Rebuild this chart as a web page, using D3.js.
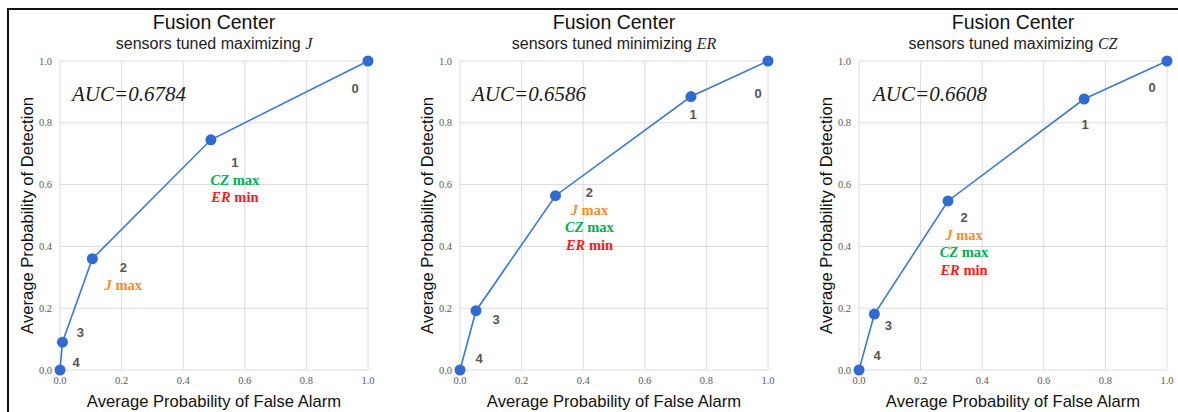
<!DOCTYPE html>
<html>
<head>
<meta charset="utf-8">
<script src="https://cdn.jsdelivr.net/npm/d3@7"></script>
<style>
  body { margin: 0; background: #fff; }
  svg { display: block; }
</style>
</head>
<body>
<div id="vis"></div>
<script>
// values
var metrics = ["J", "ER", "CZ"];
var verbs = ["maximizing", "minimizing", "maximizing"];
var aucValues = ["0.6784", "0.6586", "0.6608"];
var pointNames = ["0", "1", "2", "3", "4"];

var pfaJ = [1.0, 0.49, 0.105, 0.008, 0.0];
var pdJ = [1.0, 0.745, 0.36, 0.09, 0.0];
var pfaER = [1.0, 0.75, 0.31, 0.052, 0.0];
var pdER = [1.0, 0.885, 0.564, 0.192, 0.0];
var pfaCZ = [1.0, 0.731, 0.289, 0.05, 0.0];
var pdCZ = [1.0, 0.877, 0.547, 0.181, 0.0];

// index of the operating point that is optimal for each criterion, per panel
var jMaxAt = [2, 2, 2];
var czMaxAt = [1, 2, 2];
var erMinAt = [1, 2, 2];

var ticks = [0, 0.2, 0.4, 0.6, 0.8, 1.0];

var pfa = [pfaJ, pfaER, pfaCZ];
var pd = [pdJ, pdER, pdCZ];

// layout
var width = 1178, height = 412;
var plotLeft = [60, 460, 859];
var plotW = 308;
var plotTop = 61, plotBottom = 370;
var aucX = [72, 472, 873];

// label offsets (px) from each point, per panel
var labelOffsets = [
    [[-13, 27], [24, 23], [31, 9], [18, -10], [16, -8]],
    [[-10, 32], [2, 18], [34, -3], [20, 9], [19, -12]],
    [[-15, 26], [1, 25], [16, 17], [14, 11], [18, -15]]
];

var blue = "#3b78d8", dotBlue = "#2f6bd1";
var critColors = { J: "#f98b2c", CZ: "#00b050", ER: "#ff1a1a" };

var svg = d3.select("#vis").append("svg")
    .attr("width", width)
    .attr("height", height);

// frame
svg.append("line").attr("x1", 8).attr("y1", 9).attr("x2", width).attr("y2", 9)
    .attr("stroke", "#111").attr("stroke-width", 2);
svg.append("line").attr("x1", 8).attr("y1", 8).attr("x2", 8).attr("y2", height)
    .attr("stroke", "#111").attr("stroke-width", 2);

metrics.forEach(function(m, p) {
    var x = d3.scaleLinear().domain([0, 1]).range([plotLeft[p], plotLeft[p] + plotW]);
    var y = d3.scaleLinear().domain([0, 1]).range([plotBottom, plotTop]);
    var g = svg.append("g");
    var cx = plotLeft[p] + plotW / 2;

    // grid
    g.selectAll(".vg").data(ticks).enter().append("line")
        .attr("x1", d => x(d)).attr("x2", d => x(d))
        .attr("y1", plotTop).attr("y2", plotBottom)
        .attr("stroke", "#dcdcdc").attr("stroke-width", 1);
    g.selectAll(".hg").data(ticks).enter().append("line")
        .attr("x1", plotLeft[p]).attr("x2", plotLeft[p] + plotW)
        .attr("y1", d => y(d)).attr("y2", d => y(d))
        .attr("stroke", "#dcdcdc").attr("stroke-width", 1);

    // tick labels
    g.selectAll(".xt").data(ticks).enter().append("text")
        .attr("x", d => x(d)).attr("y", 384)
        .attr("text-anchor", "middle")
        .attr("font-family", "Liberation Serif").attr("font-size", 10.5)
        .attr("fill", "#5a5a5a")
        .text(d => d.toFixed(1));
    g.selectAll(".yt").data(ticks).enter().append("text")
        .attr("x", plotLeft[p] - 8).attr("y", d => y(d) + 3.5)
        .attr("text-anchor", "end")
        .attr("font-family", "Liberation Serif").attr("font-size", 10.5)
        .attr("fill", "#5a5a5a")
        .text(d => d.toFixed(1));

    // titles
    g.append("text").attr("x", cx).attr("y", 29)
        .attr("text-anchor", "middle")
        .attr("font-family", "Liberation Sans").attr("font-size", 19.5)
        .attr("fill", "#111")
        .text("Fusion Center");
    var st = g.append("text").attr("x", cx).attr("y", 49)
        .attr("text-anchor", "middle")
        .attr("font-family", "Liberation Sans").attr("font-size", 16)
        .attr("fill", "#222");
    st.append("tspan").text("sensors tuned " + verbs[p] + " ");
    st.append("tspan").attr("font-family", "Liberation Serif").attr("font-style", "italic")
        .text(m);

    g.append("text").attr("x", cx).attr("y", 407)
        .attr("text-anchor", "middle")
        .attr("font-family", "Liberation Sans").attr("font-size", 16.6)
        .attr("fill", "#111")
        .text("Average Probability of False Alarm");
    g.append("text")
        .attr("transform", "translate(" + (plotLeft[p] - 27) + "," + ((plotTop + plotBottom) / 2) + ") rotate(-90)")
        .attr("text-anchor", "middle")
        .attr("font-family", "Liberation Sans").attr("font-size", 16.6)
        .attr("fill", "#111")
        .text("Average Probability of Detection");

    // AUC
    g.append("text").attr("x", aucX[p]).attr("y", 101)
        .attr("font-family", "Liberation Serif").attr("font-style", "italic")
        .attr("font-size", 21).attr("fill", "#1a1a1a")
        .text("AUC=" + aucValues[p]);

    // curve
    var pts = pfa[p].map((v, i) => [v, pd[p][i]]);
    g.append("path").datum(pts)
        .attr("d", d3.line().x(d => x(d[0])).y(d => y(d[1])))
        .attr("fill", "none").attr("stroke", blue).attr("stroke-width", 1.6);
    g.selectAll(".pt").data(pts).enter().append("circle")
        .attr("cx", d => x(d[0])).attr("cy", d => y(d[1]))
        .attr("r", 5.5).attr("fill", dotBlue);

    // point labels and optimum notes
    pts.forEach(function(d, i) {
        var lx = x(d[0]) + labelOffsets[p][i][0];
        var ly = y(d[1]) + labelOffsets[p][i][1];
        g.append("text").attr("x", lx).attr("y", ly + 4.5)
            .attr("text-anchor", "middle")
            .attr("font-family", "Liberation Sans").attr("font-weight", "bold")
            .attr("font-size", 13).attr("fill", "#555")
            .text(pointNames[i]);
        var notes = [];
        if (jMaxAt[p] === i) notes.push(["J", "max"]);
        if (czMaxAt[p] === i) notes.push(["CZ", "max"]);
        if (erMinAt[p] === i) notes.push(["ER", "min"]);
        notes.forEach(function(n, k) {
            var t = g.append("text").attr("x", lx).attr("y", ly + 4.5 + 17.5 * (k + 1))
                .attr("text-anchor", "middle")
                .attr("font-family", "Liberation Serif").attr("font-weight", "bold")
                .attr("font-size", 14.5).attr("fill", critColors[n[0]]);
            t.append("tspan").attr("font-style", "italic").text(n[0]);
            t.append("tspan").text(" " + n[1]);
        });
    });
});
</script>
</body>
</html>
